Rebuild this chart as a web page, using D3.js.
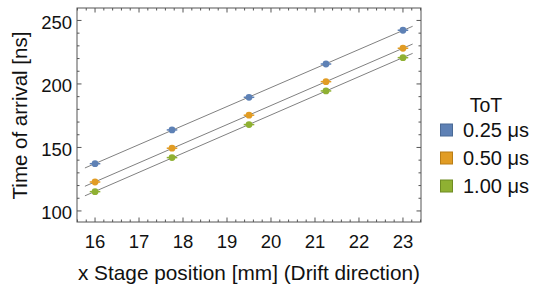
<!DOCTYPE html>
<html>
<head>
<meta charset="utf-8">
<script src="https://cdn.jsdelivr.net/npm/d3@7"></script>
<style>
  body { margin: 0; background: #fff; }
  text { font-family: "Liberation Sans", Arial, sans-serif; }
</style>
</head>
<body>
<div id="chart"></div>
<script>
// stage positions (mm)
const positions = [16, 17.75, 19.5, 21.25, 23];
// time of arrival (ns) per ToT setting
const toa025 = [137.2, 163.8, 189.5, 215.7, 242.3];
const toa050 = [122.8, 149.4, 175.4, 201.8, 228.1];
const toa100 = [115.2, 142.0, 168.0, 194.5, 220.7];
const totLabels = ["0.25 μs", "0.50 μs", "1.00 μs"];
const xErr = 0.12;
const xTicks = [16, 17, 18, 19, 20, 21, 22, 23];
const yTicks = [100, 150, 200, 250];

const colors = ["#5e81b5", "#e19c24", "#8fb032"];
const strokes = ["#4a6a96", "#b97d15", "#6f8c22"];

const series = [toa025, toa050, toa100].map((vals, i) => ({
  label: totLabels[i],
  points: positions.map((p, j) => ({ x: p, y: vals[j] }))
}));

// least squares line
function fit(pts) {
  const mx = d3.mean(pts, d => d.x), my = d3.mean(pts, d => d.y);
  const b = d3.sum(pts, d => (d.x - mx) * (d.y - my)) / d3.sum(pts, d => (d.x - mx) ** 2);
  return x => my + b * (x - mx);
}

const W = 534, H = 285;
const margin = { top: 8, right: 113, bottom: 63, left: 77 };
const gw = W - margin.left - margin.right;
const gh = H - margin.top - margin.bottom;

const svg = d3.select("#chart").append("svg")
  .attr("width", W).attr("height", H);

const g = svg.append("g")
  .attr("transform", `translate(${margin.left},${margin.top})`);

const x = d3.scaleLinear().domain([15.59, 23.41]).range([0, gw]);
const y = d3.scaleLinear().domain([91.3, 259.8]).range([gh, 0]);

const frameColor = "#555";

// frame
g.append("rect")
  .attr("width", gw).attr("height", gh)
  .attr("fill", "none").attr("stroke", frameColor).attr("stroke-width", 1);

// ticks on all sides (inward), major + minor
const xMinor = d3.range(15.6, 23.41, 0.2).filter(v => Math.abs(v - Math.round(v)) > 0.01);
const yMinor = d3.range(100, 260, 10).filter(v => v % 50 !== 0);

function drawTicks(vals, len, dir) {
  vals.forEach(v => {
    if (dir === "x") {
      const px = x(v);
      g.append("line").attr("x1", px).attr("x2", px).attr("y1", gh).attr("y2", gh - len)
        .attr("stroke", frameColor);
      g.append("line").attr("x1", px).attr("x2", px).attr("y1", 0).attr("y2", len)
        .attr("stroke", frameColor);
    } else {
      const py = y(v);
      g.append("line").attr("x1", 0).attr("x2", len).attr("y1", py).attr("y2", py)
        .attr("stroke", frameColor);
      g.append("line").attr("x1", gw).attr("x2", gw - len).attr("y1", py).attr("y2", py)
        .attr("stroke", frameColor);
    }
  });
}
drawTicks(xTicks, 4.5, "x");
drawTicks(xMinor, 2.5, "x");
drawTicks(yTicks, 4.5, "y");
drawTicks(yMinor, 2.5, "y");

// tick labels
g.selectAll(".xl").data(xTicks).enter().append("text")
  .attr("x", d => x(d)).attr("y", 248 - margin.top)
  .attr("text-anchor", "middle").attr("font-size", 18.5).attr("fill", "#111")
  .text(d => d);

g.selectAll(".yl").data(yTicks).enter().append("text")
  .attr("x", -5).attr("y", d => y(d) + 8.5)
  .attr("text-anchor", "end").attr("font-size", 18.5).attr("fill", "#111")
  .text(d => d);

// axis labels
svg.append("text")
  .attr("x", margin.left + gw / 2).attr("y", 280)
  .attr("text-anchor", "middle").attr("font-size", 20.8).attr("fill", "#111")
  .text("x Stage position [mm] (Drift direction)");

svg.append("text")
  .attr("transform", `translate(27,115.5) rotate(-90)`)
  .attr("text-anchor", "middle").attr("font-size", 20.5).attr("fill", "#111")
  .text("Time of arrival [ns]");

// fit lines
series.forEach(s => {
  const f = fit(s.points);
  const x0 = 15.77, x1 = 23.22;
  g.append("line")
    .attr("x1", x(x0)).attr("y1", y(f(x0)))
    .attr("x2", x(x1)).attr("y2", y(f(x1)))
    .attr("stroke", "#808080").attr("stroke-width", 1);
});

// points with horizontal error bars
series.forEach((s, i) => {
  const grp = g.append("g");
  grp.selectAll("line").data(s.points).enter().append("line")
    .attr("x1", d => x(d.x - xErr)).attr("x2", d => x(d.x + xErr))
    .attr("y1", d => y(d.y)).attr("y2", d => y(d.y))
    .attr("stroke", colors[i]).attr("stroke-width", 1.5);
  grp.selectAll("circle").data(s.points).enter().append("circle")
    .attr("cx", d => x(d.x)).attr("cy", d => y(d.y))
    .attr("r", 3.4).attr("fill", colors[i]);
});

// legend
const legend = svg.append("g");
legend.append("text")
  .attr("x", 486).attr("y", 111.5)
  .attr("text-anchor", "middle").attr("font-size", 19.5).attr("fill", "#111")
  .text("ToT");
series.forEach((s, i) => {
  const cy = 130 + i * 28;
  legend.append("rect")
    .attr("x", 440.5).attr("y", cy - 6).attr("width", 12).attr("height", 12)
    .attr("fill", colors[i]).attr("stroke", strokes[i]).attr("stroke-width", 1);
  legend.append("text")
    .attr("x", 463).attr("y", cy + 6.5)
    .attr("font-size", 20).attr("fill", "#111")
    .text(s.label);
});
</script>
</body>
</html>
